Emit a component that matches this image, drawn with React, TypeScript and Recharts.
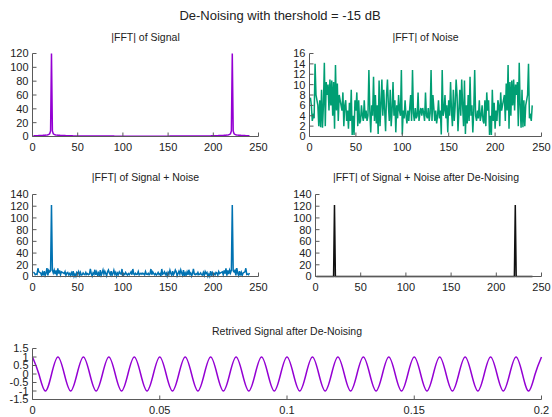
import React from 'react';
import { LineChart, Line, XAxis, YAxis } from 'recharts';

// |FFT| of the clean signal, bins 1..240
const signalFft = [
    1, 1, 1.1, 1.1, 1.2, 1.2, 1.3, 1.3, 1.4, 1.5,
    1.6, 1.7, 1.8, 1.9, 2, 2.2, 2.5, 3, 4, 8,
    120, 8, 4, 3, 2.5, 2.2, 2, 1.9, 1.8, 1.7,
    1.6, 1.5, 1.4, 1.4, 1.3, 1.3, 1.2, 1.2, 1.1, 1.1,
    1.1, 1, 1, 1, 0.9, 0.9, 0.9, 0.9, 0.8, 0.8,
    0.8, 0.8, 0.8, 0.7, 0.7, 0.7, 0.7, 0.7, 0.7, 0.7,
    0.6, 0.6, 0.6, 0.6, 0.6, 0.6, 0.6, 0.6, 0.6, 0.6,
    0.6, 0.6, 0.6, 0.6, 0.6, 0.6, 0.6, 0.6, 0.6, 0.6,
    0.6, 0.6, 0.6, 0.6, 0.6, 0.6, 0.6, 0.6, 0.6, 0.6,
    0.5, 0.5, 0.5, 0.5, 0.5, 0.5, 0.5, 0.5, 0.5, 0.5,
    0.5, 0.5, 0.5, 0.5, 0.5, 0.5, 0.5, 0.5, 0.5, 0.5,
    0.5, 0.5, 0.5, 0.5, 0.5, 0.5, 0.5, 0.5, 0.5, 0.5, 0.5,
    0.5, 0.5, 0.5, 0.5, 0.5, 0.5, 0.5, 0.5, 0.5, 0.5,
    0.5, 0.5, 0.5, 0.5, 0.5, 0.5, 0.5, 0.5, 0.5, 0.5,
    0.5, 0.5, 0.5, 0.5, 0.5, 0.5, 0.5, 0.5, 0.5, 0.5,
    0.6, 0.6, 0.6, 0.6, 0.6, 0.6, 0.6, 0.6, 0.6, 0.6,
    0.6, 0.6, 0.6, 0.6, 0.6, 0.6, 0.6, 0.6, 0.6, 0.6,
    0.6, 0.6, 0.6, 0.6, 0.6, 0.6, 0.6, 0.6, 0.6, 0.6,
    0.7, 0.7, 0.7, 0.7, 0.7, 0.7, 0.7, 0.8, 0.8, 0.8,
    0.8, 0.8, 0.9, 0.9, 0.9, 0.9, 1, 1, 1, 1.1,
    1.1, 1.1, 1.2, 1.2, 1.3, 1.3, 1.4, 1.4, 1.5, 1.6,
    1.7, 1.8, 1.9, 2, 2.2, 2.5, 3, 4, 8, 120,
    8, 4, 3, 2.5, 2.2, 2, 1.9, 1.8, 1.7, 1.6,
    1.5, 1.4, 1.3, 1.3, 1.2, 1.2, 1.1, 1.1, 1,
];

// |FFT| of the noise
const noiseFft = [
    7.5, 6, 3, 4, 3.5, 14, 8, 7, 6, 2,
    7, 1.8, 9, 1.7, 6, 14.2, 2, 10.5, 8, 10,
    5, 11, 6, 10.8, 4, 10.5, 1.5, 13.8, 5, 10.2,
    3, 8, 7, 6, 5, 8.5, 2, 6, 7, 3,
    5, 1.5, 6.5, 3, 9, 0.3, 4, 0.3, 7, 5,
    8.5, 2, 7, 2.5, 3, 6, 4, 3, 7, 3.5,
    5, 3, 4, 12.8, 5, 0.8, 6, 4, 11.5, 3,
    8, 2.5, 6, 0.5, 10.8, 2, 6, 11, 4, 9,
    5, 1, 8, 11, 6, 3, 9, 2, 5, 10.5,
    4, 7, 0.8, 6, 3.5, 8, 5, 4, 12.8, 0.4,
    5, 3.5, 7, 4, 2.5, 5, 3, 5.5, 8, 3,
    12.8, 4.5, 3, 5.5, 3.5, 4, 8.5, 3, 4.5, 5.5, 4,
    5.5, 4.5, 3, 8.5, 4, 3.5, 5.5, 3, 4.5, 12.8,
    3, 8, 5.5, 3, 5, 2.5, 4, 7, 3.5, 5,
    0.4, 12.8, 4, 5, 8, 3.5, 6, 0.8, 7, 4,
    10.5, 5, 2, 9, 3, 6, 11, 8, 1, 5,
    9, 4, 11, 6, 2, 10.8, 0.5, 6, 2.5, 8,
    3, 11.5, 4, 6, 0.8, 5, 12.8, 4, 3, 5,
    3.5, 7, 3, 4, 6, 3, 2.5, 7, 2, 8.5,
    5, 7, 0.3, 4, 0.3, 9, 3, 6.5, 1.5, 5,
    3, 7, 6, 2, 8.5, 5, 6, 7, 8, 3,
    10.2, 5, 13.8, 1.5, 10.5, 4, 10.8, 6, 11, 5,
    10, 8, 10.5, 2, 14.2, 6, 1.7, 9, 1.8, 7,
    2, 6, 7, 8, 14, 3.5, 4, 3, 6,
];

// |FFT| of signal + noise
const signalNoiseFft = [
    7.5, 6, 3, 4, 3.5, 14, 8, 7, 6, 2,
    7, 1.8, 9, 1.7, 6, 14.2, 2, 10.5, 8, 10,
    122, 11, 6, 10.8, 4, 10.5, 1.5, 13.8, 5, 10.2,
    3, 8, 7, 6, 5, 8.5, 2, 6, 7, 3,
    5, 1.5, 6.5, 3, 9, 0.3, 4, 0.3, 7, 5,
    8.5, 2, 7, 2.5, 3, 6, 4, 3, 7, 3.5,
    5, 3, 4, 12.8, 5, 0.8, 6, 4, 11.5, 3,
    8, 2.5, 6, 0.5, 10.8, 2, 6, 11, 4, 9,
    5, 1, 8, 11, 6, 3, 9, 2, 5, 10.5,
    4, 7, 0.8, 6, 3.5, 8, 5, 4, 12.8, 0.4,
    5, 3.5, 7, 4, 2.5, 5, 3, 5.5, 8, 3,
    12.8, 4.5, 3, 5.5, 3.5, 4, 8.5, 3, 4.5, 5.5, 4,
    5.5, 4.5, 3, 8.5, 4, 3.5, 5.5, 3, 4.5, 12.8,
    3, 8, 5.5, 3, 5, 2.5, 4, 7, 3.5, 5,
    0.4, 12.8, 4, 5, 8, 3.5, 6, 0.8, 7, 4,
    10.5, 5, 2, 9, 3, 6, 11, 8, 1, 5,
    9, 4, 11, 6, 2, 10.8, 0.5, 6, 2.5, 8,
    3, 11.5, 4, 6, 0.8, 5, 12.8, 4, 3, 5,
    3.5, 7, 3, 4, 6, 3, 2.5, 7, 2, 8.5,
    5, 7, 0.3, 4, 0.3, 9, 3, 6.5, 1.5, 5,
    3, 7, 6, 2, 8.5, 5, 6, 7, 8, 3,
    10.2, 5, 13.8, 1.5, 10.5, 4, 10.8, 6, 11, 122,
    10, 8, 10.5, 2, 14.2, 6, 1.7, 9, 1.8, 7,
    2, 6, 7, 8, 14, 3.5, 4, 3, 6,
];

// after thresholding only the two peaks survive
const denoisedFft = [
    0, 0, 0, 0, 0, 0, 0, 0, 0, 0, 0, 0, 0, 0, 0, 0, 0, 0, 0, 0,
    122, 0, 0, 0, 0, 0, 0, 0, 0, 0, 0, 0, 0, 0, 0, 0, 0, 0, 0, 0,
    0, 0, 0, 0, 0, 0, 0, 0, 0, 0, 0, 0, 0, 0, 0, 0, 0, 0, 0, 0,
    0, 0, 0, 0, 0, 0, 0, 0, 0, 0, 0, 0, 0, 0, 0, 0, 0, 0, 0, 0,
    0, 0, 0, 0, 0, 0, 0, 0, 0, 0, 0, 0, 0, 0, 0, 0, 0, 0, 0, 0,
    0, 0, 0, 0, 0, 0, 0, 0, 0, 0, 0, 0, 0, 0, 0, 0, 0, 0, 0, 0,
    0, 0, 0, 0, 0, 0, 0, 0, 0, 0, 0, 0, 0, 0, 0, 0, 0, 0, 0, 0,
    0, 0, 0, 0, 0, 0, 0, 0, 0, 0, 0, 0, 0, 0, 0, 0, 0, 0, 0, 0,
    0, 0, 0, 0, 0, 0, 0, 0, 0, 0, 0, 0, 0, 0, 0, 0, 0, 0, 0, 0,
    0, 0, 0, 0, 0, 0, 0, 0, 0, 0, 0, 0, 0, 0, 0, 0, 0, 0, 0, 0,
    0, 0, 0, 0, 0, 0, 0, 0, 0, 0, 0, 0, 0, 0, 0, 0, 0, 0, 0, 0,
    122, 0, 0, 0, 0, 0, 0, 0, 0, 0, 0, 0, 0, 0, 0, 0, 0, 0, 0, 0,
];

// retrieved signal, sampled every quarter period (0.0025 s)
const retrievedSignal = [
    1, 0, -1, 0, 1, 0, -1, 0, 1, 0, -1, 0, 1, 0, -1, 0, 1, 0, -1, 0,
    1, 0, -1, 0, 1, 0, -1, 0, 1, 0, -1, 0, 1, 0, -1, 0, 1, 0, -1, 0,
    1, 0, -1, 0, 1, 0, -1, 0, 1, 0, -1, 0, 1, 0, -1, 0, 1, 0, -1, 0,
    1, 0, -1, 0, 1, 0, -1, 0, 1, 0, -1, 0, 1, 0, -1, 0, 1, 0, -1, 0,
    1,
];

const binTicks = [0, 50, 100, 150, 200, 250];
const signalTicks = [0, 20, 40, 60, 80, 100, 120];
const noiseTicks = [0, 2, 4, 6, 8, 10, 12, 14, 16];
const mixTicks = [0, 20, 40, 60, 80, 100, 120, 140];
const timeTicks = [0, 0.05, 0.1, 0.15, 0.2];
const ampTicks = [-1.5, -1, -0.5, 0, 0.5, 1, 1.5];

const W = 552;
const H = 417;
const FRAME = '#5a5a5a';
const FONT = '"Liberation Sans", Arial, sans-serif';

const toRows = (values: number[]) => values.map((value, i) => ({ x: i + 1, value }));
const timeRows = retrievedSignal.map((value, i) => ({ x: i * 0.0025, value }));

type PanelProps = {
    rows: { x: number; value: number }[];
    color: string;
    box: [number, number, number, number];
    xDomain: [number, number];
    xTicks: number[];
    yDomain: [number, number];
    yTicks: number[];
    curve?: 'linear' | 'natural';
    lineWidth?: number;
};

const Panel = ({ rows, color, box, xDomain, xTicks, yDomain, yTicks, curve = 'linear', lineWidth = 1.5 }: PanelProps) => {
    const [l, t, r, b] = box;
    const tickStyle = { fill: '#222', fontSize: 11, fontFamily: FONT };
    return (
        <div style={{ position: 'absolute', left: 0, top: 0 }}>
            <LineChart width={W} height={H} data={rows} margin={{ left: l - 30, top: t, right: W - r, bottom: H - b - 15 }}>
                <XAxis dataKey="x" type="number" domain={xDomain} ticks={xTicks} interval={0} height={15}
                    tickSize={-4} tickMargin={11} stroke={FRAME} tick={tickStyle} />
                <XAxis xAxisId="top" orientation="top" dataKey="x" type="number" domain={xDomain} ticks={xTicks}
                    interval={0} height={0} tickSize={-4} tick={false} stroke={FRAME} />
                <YAxis type="number" domain={yDomain} ticks={yTicks} interval={0} width={30}
                    tickSize={-4} tickMargin={8} stroke={FRAME} tick={tickStyle} />
                <YAxis yAxisId="right" orientation="right" type="number" domain={yDomain} ticks={yTicks}
                    interval={0} width={0} tickSize={-4} tick={false} stroke={FRAME} />
                <Line type={curve} dataKey="value" stroke={color} strokeWidth={lineWidth} dot={false} isAnimationActive={false} />
            </LineChart>
        </div>
    );
};

const titles = [
    { text: 'De-Noising with thershold = -15 dB', x: 280, y: 20, size: 13 },
    { text: '|FFT| of Signal', x: 145.5, y: 40.5, size: 10.5 },
    { text: '|FFT| of Noise', x: 425.5, y: 40.5, size: 10.5 },
    { text: '|FFT| of Signal + Noise', x: 145.5, y: 180.5, size: 10.5 },
    { text: '|FFT| of Signal + Noise after De-Noising', x: 426, y: 180.5, size: 10.5 },
    { text: 'Retrived Signal after De-Noising', x: 287, y: 334.5, size: 10.5 },
];

const App = () => {
    return (
        <div style={{ position: 'absolute', left: 0, top: 0, width: W, height: H, background: '#fff', fontFamily: FONT }}>
            <Panel rows={toRows(signalFft)} color="#9400d3" box={[32.5, 53.5, 258.5, 136.5]}
                xDomain={[0, 250]} xTicks={binTicks} yDomain={[0, 120]} yTicks={signalTicks} />
            <Panel rows={toRows(noiseFft)} color="#009e73" box={[309.5, 53.5, 541.5, 136.5]}
                xDomain={[0, 250]} xTicks={binTicks} yDomain={[0, 16]} yTicks={noiseTicks} />
            <Panel rows={toRows(signalNoiseFft)} color="#0072b2" box={[32.5, 194.5, 258.5, 276.5]}
                xDomain={[0, 250]} xTicks={binTicks} yDomain={[0, 140]} yTicks={mixTicks} />
            <Panel rows={toRows(denoisedFft)} color="#111" box={[315.5, 194.5, 541.5, 276.5]}
                xDomain={[0, 250]} xTicks={binTicks} yDomain={[0, 140]} yTicks={mixTicks} />
            <Panel rows={timeRows} color="#9400d3" box={[32.5, 348.5, 541.5, 399.5]} curve="natural"
                xDomain={[0, 0.2]} xTicks={timeTicks} yDomain={[-1.5, 1.5]} yTicks={ampTicks} />
            <svg width={W} height={H} style={{ position: 'absolute', left: 0, top: 0, pointerEvents: 'none' }}>
                {titles.map((tt) => (
                    <text key={tt.text} x={tt.x} y={tt.y} textAnchor="middle" fontSize={tt.size} fill="#222" fontFamily={FONT}>
                        {tt.text}
                    </text>
                ))}
            </svg>
        </div>
    );
};

export default App;
